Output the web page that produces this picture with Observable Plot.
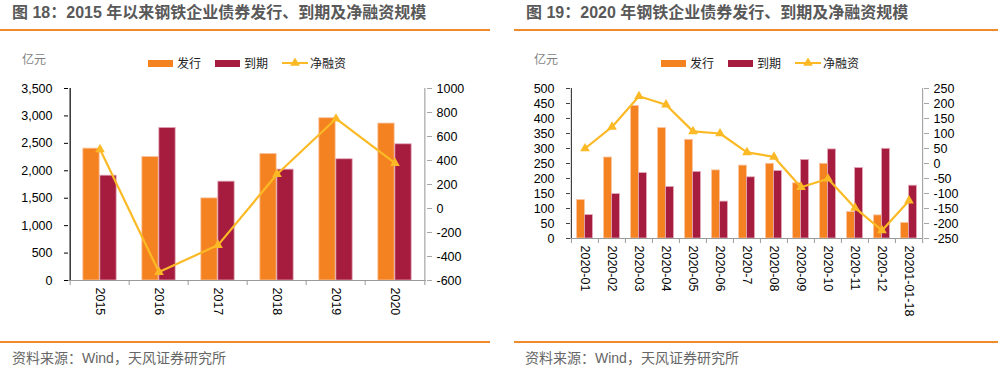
<!DOCTYPE html>
<html><head><meta charset="utf-8">
<script src="https://cdn.jsdelivr.net/npm/d3@7"></script>
<script src="https://cdn.jsdelivr.net/npm/@observablehq/plot@0.6"></script>
<style>
body{margin:0;background:#fff;font-family:"Liberation Sans",Arial,"Noto Sans CJK SC",sans-serif;}
#root{position:relative;width:1000px;height:371px;overflow:hidden;background:#fff}
.title{position:absolute;top:5px;font-size:16px;line-height:16px;font-weight:bold;color:#595959;white-space:nowrap;font-family:"Liberation Sans",Arial,"Noto Sans CJK SC",sans-serif}
.hr{position:absolute;height:1.5px;background:#F08A2C}
.unit{position:absolute;top:53px;font-size:12px;line-height:12px;color:#7f7f7f;font-family:"Noto Sans CJK SC",sans-serif}
.legend{position:absolute;top:57px;font-size:12px;line-height:12px;display:flex;align-items:center;color:#222;font-family:"Noto Sans CJK SC",sans-serif;white-space:nowrap}
.legend .sw{display:inline-block;width:25px;height:7px;margin-right:4px}
.legend .item{display:flex;align-items:center;margin-right:14px}
.src{position:absolute;top:351px;font-size:14px;line-height:14px;color:#666;white-space:nowrap;font-family:"Liberation Sans",Arial,"Noto Sans CJK SC",sans-serif}
.plot{position:absolute;top:75px}
</style>
</head>
<body>
<div id="root">
  <div class="title" style="left:12px">图 18：2015 年以来钢铁企业债券发行、到期及净融资规模</div>
  <div class="hr" style="left:0;top:29px;width:490px"></div>
  <div class="title" style="left:526px">图 19：2020 年钢铁企业债券发行、到期及净融资规模</div>
  <div class="hr" style="left:514px;top:29px;width:484px"></div>
  <div class="unit" style="left:22px">亿元</div>
  <div class="unit" style="left:534px">亿元</div>
  <div id="p1" class="plot" style="left:0"></div>
  <div id="p2" class="plot" style="left:500px"></div>
  <div id="lg1" class="legend" style="left:148px"></div>
  <div id="lg2" class="legend" style="left:661px"></div>
  <div class="hr" style="left:0;top:341px;width:490px"></div>
  <div class="hr" style="left:514px;top:341px;width:484px"></div>
  <div class="src" style="left:12px">资料来源：Wind，天风证券研究所</div>
  <div class="src" style="left:525px">资料来源：Wind，天风证券研究所</div>
</div>
<script>
// ---- Data: Figure 18 (annual, 亿元) ----
const years = ["2015","2016","2017","2018","2019","2020"];
const issue18 = [2404, 2252, 1497, 2307, 2958, 2861];
const mature18 = [1911, 2782, 1802, 2021, 2210, 2483];
const net18 = [493, -530, -305, 286, 748, 378];
const yTicks18 = [0, 500, 1000, 1500, 2000, 2500, 3000, 3500];
const y2Ticks18 = [-600, -400, -200, 0, 200, 400, 600, 800, 1000];

// ---- Data: Figure 19 (monthly 2020, 亿元) ----
const months = ["2020-01","2020-02","2020-03","2020-04","2020-05","2020-06","2020-7","2020-08","2020-09","2020-10","2020-11","2020-12","20201-01-18"];
const issue19 = [128, 270, 442, 368, 329, 227, 243, 249, 184, 249, 88, 77, 52];
const mature19 = [78, 148, 218, 172, 222, 123, 204, 225, 262, 297, 235, 299, 176];
const net19 = [50, 122, 224, 196, 107, 100, 37, 22, -79, -51, -148, -223, -124];
const yTicks19 = [0, 50, 100, 150, 200, 250, 300, 350, 400, 450, 500];
const y2Ticks19 = [-250, -200, -150, -100, -50, 0, 50, 100, 150, 200, 250];

const seriesNames = ["发行", "到期", "净融资"];

const ORANGE = "#F58220", MAROON = "#A51C3F", GOLD = "#FBBA25";

function panel(cfg) {
  const {cats, issue, mature, net, yTicks, y2Ticks, yFormat, width, height, ml, mr, mt, mb, barW, leftAxisColor} = cfg;
  const yDomain = [yTicks[0], yTicks[yTicks.length - 1]];
  const y2Domain = [y2Ticks[0], y2Ticks[y2Ticks.length - 1]];
  const bw = (width - ml - mr) / cats.length;
  const toY = d3.scaleLinear(y2Domain, yDomain);
  const rows = cats.map((c, i) => ({c, issue: issue[i], mature: mature[i], net: net[i], netY: toY(net[i])}));
  const last = cats[cats.length - 1];
  return Plot.plot({
    width, height,
    marginLeft: ml, marginRight: mr, marginTop: mt, marginBottom: mb,
    style: {fontFamily: "'Liberation Sans', Arial, sans-serif", fontSize: "12.5px", color: "#000", background: "transparent", overflow: "visible"},
    x: {type: "band", domain: cats, padding: 0, axis: null},
    y: {domain: yDomain, axis: null},
    marks: [
      Plot.barY(rows, {x: "c", y: "issue", fill: ORANGE, stroke: "#F9C4A2", strokeWidth: 0.8, insetLeft: bw / 2 - barW, insetRight: bw / 2}),
      Plot.barY(rows, {x: "c", y: "mature", fill: MAROON, stroke: "#E3A9B8", strokeWidth: 0.8, insetLeft: bw / 2, insetRight: bw / 2 - barW}),
      // x axis baseline and category boundary ticks
      Plot.ruleY([yDomain[0]], {stroke: "#9a9a9a", strokeWidth: 1.2}),
      Plot.ruleX(cats, {x: d => d, dx: -bw / 2, y1: yDomain[0], y2: yDomain[0], insetBottom: -5, stroke: "#9a9a9a"}),
      // left axis line
      Plot.ruleX([cats[0]], {dx: -bw / 2, stroke: leftAxisColor, strokeWidth: 1.2}),
      // right axis line (extends down as last boundary tick)
      Plot.ruleX([last], {dx: bw / 2, insetBottom: -5, stroke: "#a6a6a6", strokeWidth: 1.2}),
      Plot.axisY(yTicks, {anchor: "left", tickFormat: yFormat, tickSize: 4, tickPadding: 12, stroke: leftAxisColor, fill: "#000", label: null}),
      Plot.axisY(y2Ticks.map(toY), {anchor: "right", tickFormat: d => String(Math.round(toY.invert(d))), tickSize: 5, tickPadding: 5, stroke: "#a6a6a6", fill: "#000", label: null}),
      Plot.axisX({anchor: "bottom", tickRotate: 90, tickSize: 0, tickPadding: 7, fill: "#000", label: null}),
      Plot.line(rows, {x: "c", y: "netY", stroke: GOLD, strokeWidth: 2.2}),
      Plot.dot(rows, {x: "c", y: "netY", symbol: "triangle", fill: GOLD, stroke: "none", r: 3.6})
    ]
  });
}

document.getElementById("p1").appendChild(panel({
  cats: years, issue: issue18, mature: mature18, net: net18,
  yTicks: yTicks18, y2Ticks: y2Ticks18, yFormat: d3.format(","),
  width: 495, height: 255, ml: 68, mr: 69, mt: 13, mb: 50, barW: 17, leftAxisColor: "#000"
}));
document.getElementById("p2").appendChild(panel({
  cats: months, issue: issue19, mature: mature19, net: net19,
  yTicks: yTicks19, y2Ticks: y2Ticks19, yFormat: d => String(d),
  width: 500, height: 255, ml: 70, mr: 77, mt: 13, mb: 92, barW: 8, leftAxisColor: "#404040"
}));

function legend(el) {
  const colors = [ORANGE, MAROON];
  seriesNames.forEach((name, i) => {
    const item = document.createElement("div");
    item.className = "item";
    if (i < 2) {
      const sw = document.createElement("span");
      sw.className = "sw";
      sw.style.background = colors[i];
      item.appendChild(sw);
    } else {
      const svg = d3.create("svg").attr("width", 26).attr("height", 10).style("margin-right", "2px");
      svg.append("line").attr("x1", 0).attr("x2", 26).attr("y1", 5).attr("y2", 5).attr("stroke", GOLD).attr("stroke-width", 2);
      svg.append("path").attr("d", d3.symbol(d3.symbolTriangle, 40)()).attr("transform", "translate(13,5)").attr("fill", GOLD);
      item.appendChild(svg.node());
    }
    const t = document.createElement("span");
    t.textContent = name;
    item.appendChild(t);
    el.appendChild(item);
  });
}
legend(document.getElementById("lg1"));
legend(document.getElementById("lg2"));
</script>
</body></html>
